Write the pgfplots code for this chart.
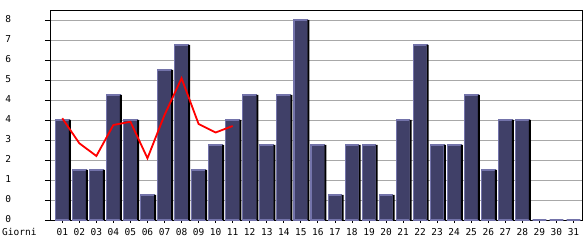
\documentclass[border=0pt]{standalone}
\usepackage{pgfplots}
\pgfplotsset{compat=1.18}
\usepackage{fontspec}
\setmainfont{DejaVu Sans Mono}
\definecolor{barfill}{HTML}{404068}
\definecolor{barhi}{HTML}{7373AA}
\definecolor{gridc}{HTML}{A8A8A8}
\begin{document}
\begin{tikzpicture}
\begin{axis}[
  at={(0,0)}, anchor=south west,
  scale only axis, width=532pt, height=210pt,
  xmin=0.28, xmax=31.5, ymin=0, ymax=8.4,
  xtick={1,...,31},
  xticklabels={01,02,03,04,05,06,07,08,09,10,11,12,13,14,15,16,17,18,19,20,21,22,23,24,25,26,27,28,29,30,31},
  ytick={0,0.8,1.6,2.4,3.2,4.0,4.8,5.6,6.4,7.2,8.0},
  yticklabels={0,0,1,2,3,4,4,5,6,7,8},
  xtick pos=bottom, ytick pos=left,
  tick align=outside,
  xtick style={black, line width=0.8pt},
  ytick style={black, line width=0.8pt},
  x tick style={/pgfplots/major tick length=3pt},
  y tick style={/pgfplots/major tick length=5pt},
  ymajorgrids, major grid style={gridc, line width=0.9pt},
  axis line style={black, line width=0.9pt},
  tick label style={font=\fontsize{9.5}{10}\selectfont},
  yticklabel style={anchor=west, xshift=-44pt, yshift=1pt},
  xticklabel style={yshift=-1pt},
  clip=false,
]
\addplot[ybar, bar width=13.7pt, fill=barfill, draw=barhi, line width=1.1pt] coordinates {
(1,4)(2,2)(3,2)(4,5)(5,4)(6,1)(7,6)(8,7)(9,2)(10,3)(11,4)(12,5)(13,3)(14,5)(15,8)(16,3)
(17,1)(18,3)(19,3)(20,1)(21,4)(22,7)(23,3)(24,3)(25,5)(26,2)(27,4)(28,4)(29,0)(30,0)(31,0)};
\addplot[ybar, bar width=2pt, bar shift=7.6pt, fill=black, draw=none] coordinates {
(1,4)(2,2)(3,2)(4,5)(5,4)(6,1)(7,6)(8,7)(9,2)(10,3)(11,4)(12,5)(13,3)(14,5)(15,8)(16,3)
(17,1)(18,3)(19,3)(20,1)(21,4)(22,7)(23,3)(24,3)(25,5)(26,2)(27,4)(28,4)};
\addplot[red, line width=1.8pt, mark=none] coordinates {
(1,4.07)(2,3.07)(3,2.56)(4,3.8)(5,3.93)(6,2.47)(7,4.2)(8,5.67)(9,3.84)(10,3.5)(11,3.76)};
\node[anchor=west, font=\fontsize{9.5}{10}\selectfont, inner sep=0pt] at (rel axis cs:0,0) [xshift=-48pt, yshift=-12pt] {Giorni};
\end{axis}
\pgfresetboundingbox
\path[use as bounding box] (-50pt,-20pt) rectangle (535pt,220pt);
\end{tikzpicture}
\end{document}
